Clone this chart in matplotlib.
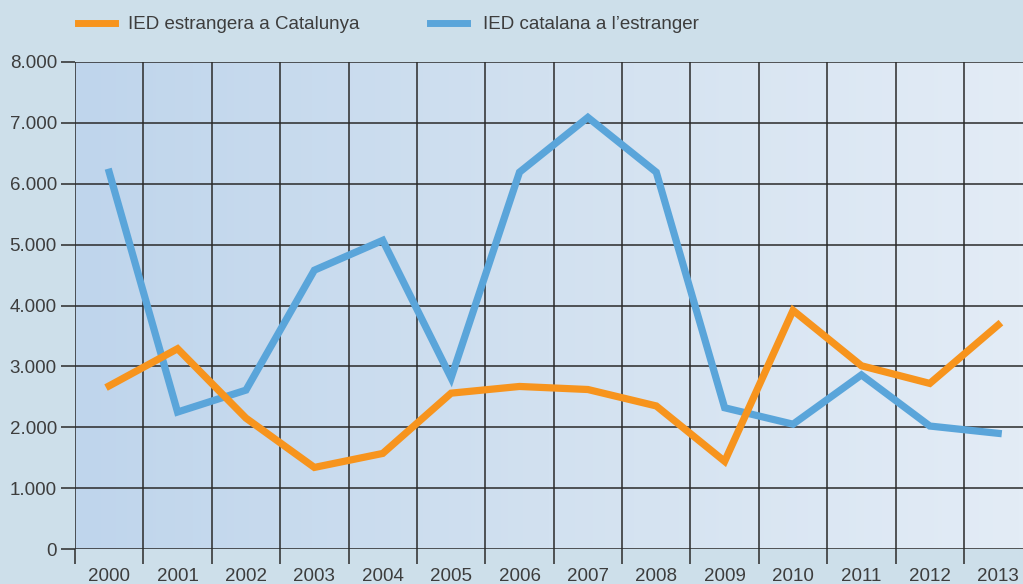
import matplotlib
matplotlib.use("Agg")
import matplotlib.pyplot as plt
import numpy as np
from matplotlib.colors import LinearSegmentedColormap
from matplotlib.lines import Line2D

years = ["2000", "2001", "2002", "2003", "2004", "2005", "2006",
         "2007", "2008", "2009", "2010", "2011", "2012", "2013"]
ied_estrangera = [2680, 3290, 2150, 1340, 1570, 2560, 2670, 2620, 2350, 1440, 3920, 3010, 2720, 3680]
ied_catalana = [6190, 2250, 2610, 4580, 5070, 2810, 6190, 7090, 6190, 2320, 2050, 2860, 2020, 1900]
label_estrangera = "IED estrangera a Catalunya"
label_catalana = "IED catalana a l\u2019estranger"
yticks = [0, 1000, 2000, 3000, 4000, 5000, 6000, 7000, 8000]

plt.rcParams['font.family'] = ['Liberation Sans', 'DejaVu Sans']
W, H = 1023, 584
fig = plt.figure(figsize=(W / 100, H / 100), dpi=100, facecolor="#cddfea")
ax = fig.add_axes([75 / W, (H - 549) / H, (W - 75) / W, (549 - 62) / H])

n = len(years)
x = np.arange(n)
step = (964 - 75) / 13
xmax = (W - 75) / step - 0.5
ax.set_xlim(-0.5, xmax)
ax.set_ylim(0, 8000)

# gradient background
cmap = LinearSegmentedColormap.from_list("bg", ["#bfd5ec", "#d2e1f0", "#e3ecf6"])
grad = np.linspace(0, 1, 256).reshape(1, -1)
ax.imshow(grad, aspect="auto", cmap=cmap, extent=(-0.5, xmax, 0, 8000), zorder=0)

orange = "#f7941d"
blue = "#5aa5da"
ax.plot(x, ied_catalana, color=blue, lw=5.2, zorder=3, solid_joinstyle="miter")
ax.plot(x, ied_estrangera, color=orange, lw=5.2, zorder=4, solid_joinstyle="miter")

# grid
ax.set_xticks(np.arange(n) - 0.5)
ax.set_xticklabels([])
ax.set_xticks(x, minor=True)
ax.set_xticklabels(years, minor=True)
ax.set_yticks(yticks)
ax.set_yticklabels([f"{v:,}".replace(",", ".") for v in yticks])
ax.grid(True, which="major", color="#2a2a2a", lw=1.1, zorder=2)
ax.set_axisbelow(False)
for l in ax.get_xgridlines() + ax.get_ygridlines():
    l.set_zorder(2)
ax.tick_params(axis="x", which="major", length=11, width=1.1, color="#2a2a2a", direction="out")
ax.tick_params(axis="x", which="minor", length=0, pad=13.5, labelsize=13.5, labelcolor="#3d3d3d")
ax.tick_params(axis="y", length=10, width=1.1, color="#2a2a2a", labelsize=13.5,
               labelcolor="#3d3d3d", pad=3)
for s in ax.spines.values():
    s.set_visible(False)

# legend
fy = 1 - 23 / H
fig.add_artist(Line2D([78 / W, 115 / W], [fy, fy], color=orange, lw=5, transform=fig.transFigure))
fig.text(128 / W, fy - 1.5 / H, label_estrangera, fontsize=13.5, color="#3d3d3d", va="center", ha="left")
fig.add_artist(Line2D([430 / W, 467 / W], [fy, fy], color=blue, lw=5, transform=fig.transFigure))
fig.text(483 / W, fy - 1.5 / H, label_catalana, fontsize=13.5, color="#3d3d3d", va="center", ha="left")

fig.savefig("out.png", dpi=100, facecolor=fig.get_facecolor())
